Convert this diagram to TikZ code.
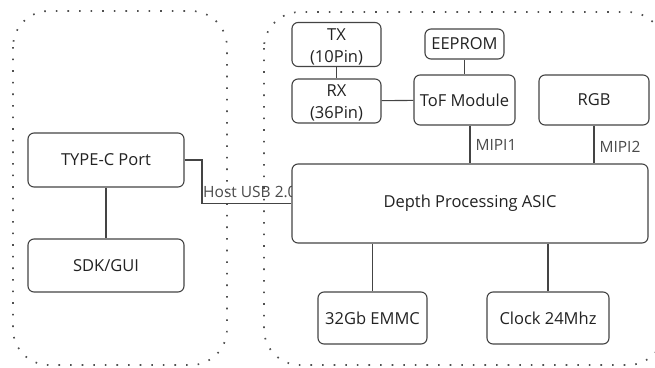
\documentclass[tikz,border=0pt]{standalone}
\usepackage{fontspec}
\setmainfont{Open Sans}
\definecolor{edge}{HTML}{444444}
\definecolor{txt}{HTML}{222222}
\definecolor{lbl}{HTML}{4a4a4a}
\definecolor{dots}{HTML}{505050}
\begin{document}
\begin{tikzpicture}[x=1pt,y=-1pt,
  box/.style={draw=edge,line width=1.1pt,rounded corners=6pt,fill=white,
    text=txt,font=\fontsize{16.5}{22}\selectfont,inner sep=0pt,anchor=center},
  wire/.style={draw=edge,line width=1.1pt},
  lab/.style={text=lbl,font=\fontsize{15.5}{18}\selectfont,inner sep=0pt},
  group/.style={draw=dots,line width=1.7pt,dash pattern=on 1.6pt off 10pt,rounded corners=36pt}]
\useasboundingbox (0,0) rectangle (655,367);
\begin{scope}
\clip (0,0) rectangle (655,367);
\draw[group] (13,11) rectangle (227,365);
\draw[group] (264,12) rectangle (664,365);
\end{scope}
% left group
\node[box,minimum width=156pt,minimum height=54pt] (typec) at (106,160) {TYPE-C Port};
\node[box,minimum width=156pt,minimum height=53pt] (sdk) at (106,265.5) {SDK/GUI};
% right group
\node[box,minimum width=89pt,minimum height=43pt] (tx) at (336.5,44.5)
  {\raisebox{-2.5pt}[\height][\depth]{\begin{tabular}{@{}c@{}}TX\\(10Pin)\end{tabular}}};
\node[box,minimum width=89pt,minimum height=44pt] (rx) at (336.5,101)
  {\raisebox{-2.5pt}[\height][\depth]{\begin{tabular}{@{}c@{}}RX\\(36Pin)\end{tabular}}};
\node[box,minimum width=79pt,minimum height=30pt] (eeprom) at (464.5,44) {EEPROM};
\node[box,minimum width=101pt,minimum height=50pt] (tof) at (464.5,100) {ToF Module};
\node[box,minimum width=110pt,minimum height=50pt] (rgb) at (594,100) {RGB};
\node[lab,anchor=base west] (host) at (203,197.5) {Host USB 2.0};
\node[box,minimum width=356pt,minimum height=79pt] (asic) at (470,203.5) {Depth Processing ASIC};
\node[box,minimum width=109pt,minimum height=52pt] (emmc) at (372.5,318) {32Gb EMMC};
\node[box,minimum width=122pt,minimum height=52pt] (clock) at (548,318) {Clock 24Mhz};
\coordinate (m1) at (470,0);
\coordinate (bend) at (202,0);
% connectors
\draw[wire] (typec) -- (sdk);
\draw[wire] (typec.east) -- (typec.east -| bend) -- (asic.west -| bend) -- (asic.west);
\draw[wire] (tx) -- (rx);
\draw[wire] (rx) -- (tof);
\draw[wire] (eeprom) -- (tof);
\draw[wire] (tof.south -| m1) -- (asic.north -| m1) node[lab,pos=0.5,anchor=west,xshift=5pt] (mipi1) {MIPI1};
\draw[wire] (rgb) -- (asic.north -| rgb) node[lab,pos=0.55,anchor=west,xshift=5pt] (mipi2) {MIPI2};
\draw[wire] (asic.south -| emmc) -- (emmc);
\draw[wire] (asic.south -| clock) -- (clock);
\end{tikzpicture}
\end{document}
